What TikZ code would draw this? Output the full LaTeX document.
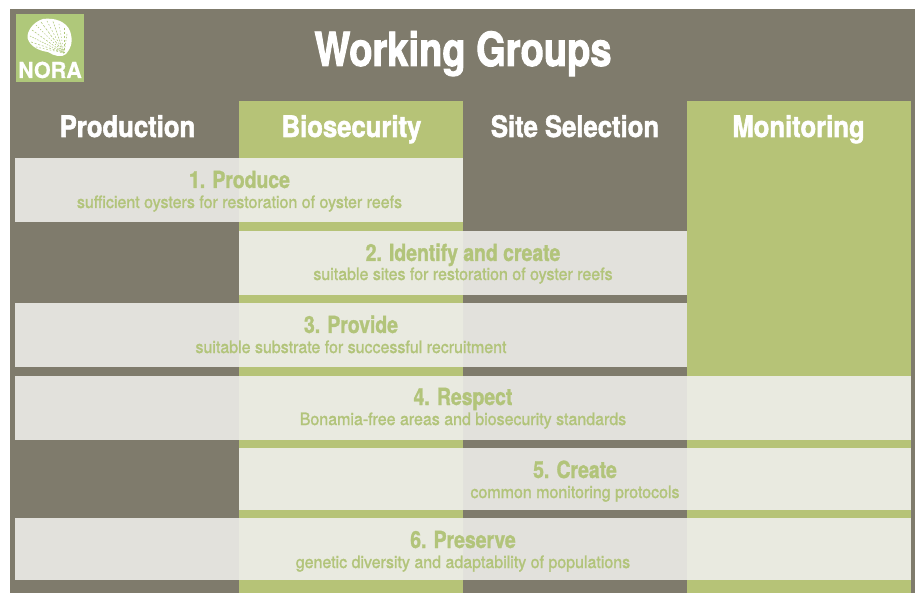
\documentclass[tikz,border=0pt]{standalone}
\usepackage{fontspec}
\setmainfont{TeX Gyre Heros}
\newfontfamily\headfont{TeX Gyre Heros Bold}[FakeStretch=0.87,FakeBold=1.8]
\newfontfamily\titlefont{TeX Gyre Heros Bold}[FakeStretch=0.81,FakeBold=2.0]
\newfontfamily\barfont{TeX Gyre Heros Bold}[FakeStretch=0.825,FakeBold=1.3]
\newfontfamily\subfont{TeX Gyre Heros}[FakeStretch=0.94,FakeBold=1.5]
\newfontfamily\logofont{TeX Gyre Heros Bold}[FakeStretch=0.98,FakeBold=0.5]
\definecolor{bggray}{HTML}{7F7B6C}
\definecolor{colgreen}{HTML}{B6C377}
\definecolor{logogreen}{HTML}{AFC87A}
\definecolor{txtgreen}{HTML}{B2C47A}
\definecolor{barongray}{HTML}{E2E1DC}
\definecolor{barongreen}{HTML}{E9EAE0}
\tikzset{
  x=1pt,y=-1pt,
  column/.style={fill=colgreen,draw=none},
  colhead/.style={font=\headfont\fontsize{29.5}{32}\selectfont,text=white,inner sep=0pt,anchor=base},
  title/.style={font=\titlefont\fontsize{47}{50}\selectfont,text=white,inner sep=0pt,anchor=base},
  bartitle/.style={font=\barfont\fontsize{23.5}{26}\selectfont,text=txtgreen,inner sep=0pt,anchor=base},
  barsub/.style={font=\subfont\fontsize{17}{19}\selectfont,text=txtgreen,inner sep=0pt,anchor=base},
}
\newcommand{\allbars}[1]{%
  \foreach \xa/\ya/\xb/\yb in {15/158/463/222,239/231/687/295,15/303/687/367,15/376/911/440,239/448/911/510,15/518/911/580}
    \fill[#1] (\xa,\ya) rectangle (\xb,\yb);}
\begin{document}
\begin{tikzpicture}
\useasboundingbox (0,0) rectangle (915,593);
\fill[white] (0,0) rectangle (915,593);
\fill[bggray] (10,9) rectangle (915,593);
% columns
\fill[column] (239,101) rectangle (463,593);
\fill[column] (687,101) rectangle (911,593);
% logo
\fill[logogreen] (16,14) rectangle (84,82);
\fill[white] (43,19) .. controls (54,17.5) and (66,21) .. (70,31)
  .. controls (73,40) and (72,47) .. (66,54) .. controls (62,58) and (54,56) .. (48,52)
  .. controls (40,51) and (30,47) .. (27.5,38) .. controls (27,31) and (33,22) .. (43,19) -- cycle;
\foreach \a/\b/\p/\q in {30/36/1.5/1.2, 32/30/2/1.5, 36/25/1.2/1.8, 41/22/2.5/1.5, 47/21/1.5/2, 53/21.5/2/1.2, 59/24/1.2/2, 64/28/2.5/1.5, 67/34/1.5/1.5, 31/42/2/1.8, 36/47/1.5/2}
  \draw[logogreen,line width=0.55pt,dash pattern=on \p pt off \q pt] (\a,\b) -- (64,53);
% title and column heads
\node[font=\logofont\fontsize{22}{23}\selectfont,text=white,inner sep=0pt,anchor=base] (logo) at (50,78) {NORA};
\node[title] (ttl) at (463,66) {Working Groups};
\node[colhead] (h1) at (127.5,137) {Production};
\node[colhead] (h2) at (351.5,137) {Biosecurity};
\node[colhead] (h3) at (575,137) {Site Selection};
\node[colhead] (h4) at (798.5,137) {Monitoring};
% bars
\allbars{barongray}
\begin{scope}
\clip (239,101) rectangle (463,593) (687,101) rectangle (911,593);
\allbars{barongreen}
\end{scope}
% bar texts
\node[bartitle] (t1) at (239.5,188) {1. Produce};
\node[barsub] (s1) at (239.5,208) {sufficient oysters for restoration of oyster reefs};
\node[bartitle] (t2) at (463,261) {2. Identify and create};
\node[barsub] (s2) at (463,280) {suitable sites for restoration of oyster reefs};
\node[bartitle] (t3) at (351,333) {3. Provide};
\node[barsub] (s3) at (351,353) {suitable substrate for successful recruitment};
\node[bartitle] (t4) at (463,405) {4. Respect};
\node[barsub] (s4) at (463,425) {Bonamia-free areas and biosecurity standards};
\node[bartitle] (t5) at (575,478) {5. Create};
\node[barsub] (s5) at (575,498) {common monitoring protocols};
\node[bartitle] (t6) at (463,548) {6. Preserve};
\node[barsub] (s6) at (463,568) {genetic diversity and adaptability of populations};
\end{tikzpicture}
\end{document}
